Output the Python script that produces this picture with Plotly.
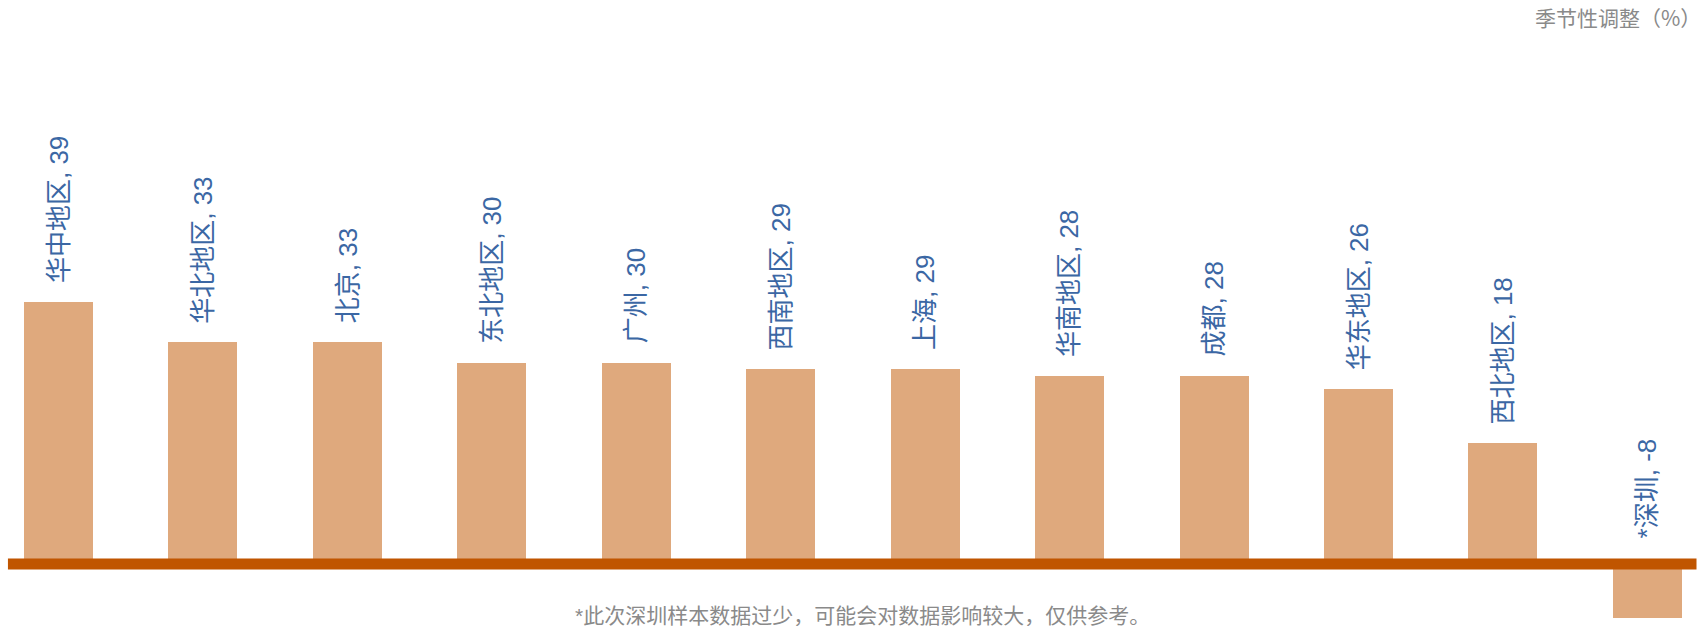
import plotly.graph_objects as go

categories = ["华中地区", "华北地区", "北京", "东北地区", "广州", "西南地区",
              "上海", "华南地区", "成都", "华东地区", "西北地区", "*深圳"]
values = [39, 33, 33, 30, 30, 29, 29, 28, 28, 26, 18, -8]

title_text = "季节性调整（%）"
footnote_text = "*此次深圳样本数据过少，可能会对数据影响较大，仅供参考。"

BAR_COLOR = "#DFA97D"
LINE_COLOR = "#C05500"
LABEL_COLOR = "#3B67A4"
GRAY = "#8A8A8A"
FONT = "Liberation Sans, Arial, Noto Sans CJK SC, sans-serif"

W, H = 1703, 626
xs = list(range(len(categories)))

fig = go.Figure()
fig.add_trace(go.Bar(
    x=xs, y=values, width=0.478,
    marker=dict(color=BAR_COLOR, line=dict(width=0)),
    hoverinfo="skip", showlegend=False,
))

annotations = []
for i, (c, v) in enumerate(zip(categories, values)):
    annotations.append(dict(
        x=i, y=max(v, 0), xref="x", yref="y",
        text=f"{c}, {v}", textangle=-90, showarrow=False,
        xanchor="center", yanchor="bottom",
        yshift=17 if v >= 0 else 24,
        font=dict(family=FONT, size=26, color=LABEL_COLOR),
    ))

annotations.append(dict(
    x=1.0, y=1.0, xref="paper", yref="paper", xanchor="right", yanchor="top",
    yshift=0, xshift=0, text=title_text, showarrow=False,
    font=dict(family="Noto Sans CJK SC, sans-serif", size=21, color=GRAY),
))
annotations.append(dict(
    x=863 / W, y=0, xref="paper", yref="paper", xanchor="center", yanchor="middle",
    yshift=H - 615, text=footnote_text, showarrow=False,
    font=dict(family=FONT, size=21, color=GRAY),
))

fig.update_layout(
    width=W, height=H,
    margin=dict(l=0, r=0, t=0, b=0),
    paper_bgcolor="white", plot_bgcolor="white",
    bargap=0,
    xaxis=dict(range=[-0.405, 11.385], visible=False, fixedrange=True),
    yaxis=dict(range=[-9.23, 83.97], visible=False, fixedrange=True),
    annotations=annotations,
    shapes=[dict(type="line", xref="x", yref="y", x0=-0.35, x1=11.34, y0=0, y1=0,
                 line=dict(color=LINE_COLOR, width=11), layer="above")],
)

fig.write_html("out.html", config={"displayModeBar": False})

with open("out.html", "r", encoding="utf-8") as f:
    html = f.read()
html = html.replace("<head>", "<head><style>html,body{margin:0;padding:0;overflow:hidden;}</style>", 1)
with open("out.html", "w", encoding="utf-8") as f:
    f.write(html)
